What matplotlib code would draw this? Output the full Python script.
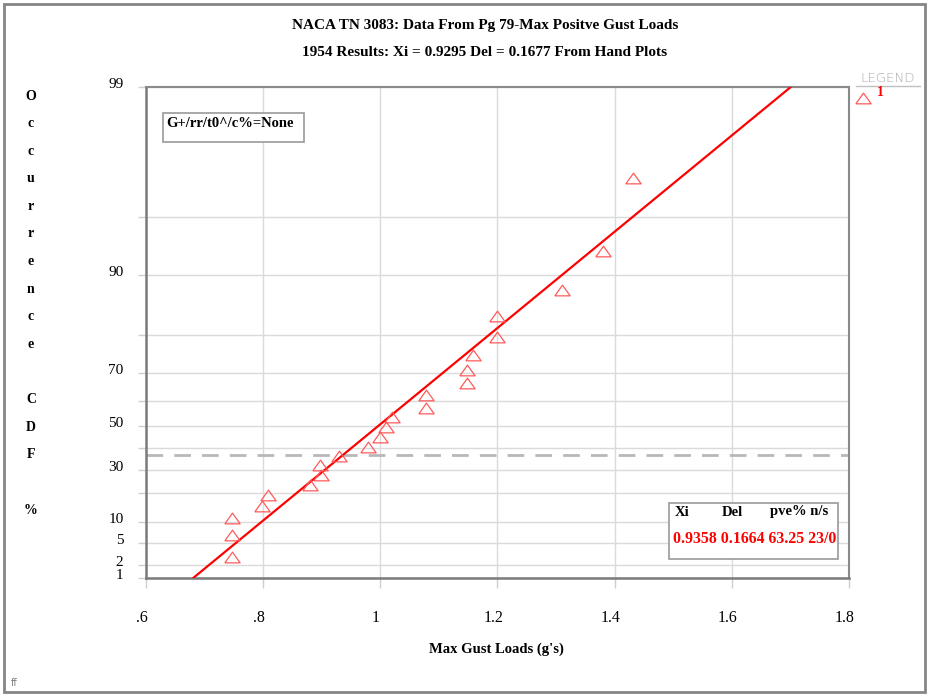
import numpy as np
import matplotlib
matplotlib.use("Agg")
import matplotlib.pyplot as plt
import matplotlib.patches as mpatches
import matplotlib.transforms as mtransforms
from matplotlib.ticker import FixedLocator, FixedFormatter

# ---------------- data ----------------
title1 = "NACA TN 3083: Data From Pg 79-Max Positve Gust Loads"
title2 = "1954 Results: Xi = 0.9295 Del = 0.1677 From Hand Plots"
x_label = "Max Gust Loads (g's)"
y_label_letters = ["O", "c", "c", "u", "r", "r", "e", "n", "c", "e", "", "C", "D", "F", "", "%"]

gust_loads = [0.748, 0.748, 0.748, 0.798, 0.809, 0.880, 0.899, 0.897, 0.929, 0.979,
              0.999, 1.010, 1.021, 1.078, 1.078, 1.149, 1.149, 1.159, 1.199, 1.199,
              1.311, 1.381, 1.432]
cdf_pct = [2.8, 6.8, 11.1, 15.2, 19.3, 23.6, 27.8, 32.2, 36.4, 40.5,
           45.1, 49.5, 53.8, 57.5, 62.3, 66.7, 70.7, 75.1, 79.6, 83.9,
           88.0, 92.5, 96.9]

fit_xi = 0.9358
fit_del = 0.1664
fit_pve = "63.25"
fit_ns = "23/0"
ref_line_pct = 36.75

x_ticks = [0.6, 0.8, 1.0, 1.2, 1.4, 1.6, 1.8]
x_tick_labels = [".6", ".8", "1", "1.2", "1.4", "1.6", "1.8"]
y_grid_pct = [1, 2, 5, 10, 20, 30, 40, 50, 60, 70, 80, 90, 95, 99]
y_label_pct = [1, 2, 5, 10, 30, 50, 70, 90, 99]
box_label = "G+/rr/t0^/c%=None"
legend_entry = "1"

# ---------------- figure ----------------
W, H = 931, 694
fig = plt.figure(figsize=(W / 100, H / 100), dpi=100)
SERIF = ["Liberation Serif", "DejaVu Serif"]


def fx(x):
    return x / W


def fy(y):
    return 1 - y / H


ax = fig.add_axes([fx(145.7), fy(577.7), fx(849) - fx(145.7), fy(86.7) - fy(577.7)])


def gumbel_fwd(p):
    p = np.clip(np.asarray(p, dtype=float) / 100.0, 1e-9, 1 - 1e-9)
    return -np.log(-np.log(p))


def gumbel_inv(y):
    return 100.0 * np.exp(-np.exp(-np.asarray(y, dtype=float)))


ax.set_yscale("function", functions=(gumbel_fwd, gumbel_inv))
ax.set_xlim(0.6, 1.8)
ax.set_ylim(1, 99)

# grid
ax.yaxis.set_major_locator(FixedLocator(y_grid_pct))
ax.yaxis.set_major_formatter(FixedFormatter(
    [(str(v) if v in y_label_pct else "") for v in y_grid_pct]))
ax.yaxis.set_minor_locator(FixedLocator([]))
ax.xaxis.set_major_locator(FixedLocator(x_ticks))
ax.xaxis.set_major_formatter(FixedFormatter(x_tick_labels))
ax.grid(True, color="#dadada", lw=1.0, zorder=0)
ax.set_axisbelow(True)

ax.tick_params(axis="both", which="major", color="#cfcfcf", width=1.0,
               labelsize=11.5, direction="out")
ax.tick_params(axis="x", length=7, pad=16)
ax.tick_params(axis="y", length=6, pad=10, labelsize=11)
for lab in ax.get_xticklabels():
    lab.set_fontfamily(SERIF)
for lab in ax.get_yticklabels():
    lab.set_fontfamily(SERIF)

off_y = mtransforms.ScaledTranslation(0, 4 / 100, fig.dpi_scale_trans)
for lab in ax.get_yticklabels():
    lab.set_transform(lab.get_transform() + off_y)
off_x = mtransforms.ScaledTranslation(-4 / 100, 0, fig.dpi_scale_trans)
for lab in ax.get_xticklabels():
    lab.set_transform(lab.get_transform() + off_x)

for side in ["left", "bottom"]:
    ax.spines[side].set_color("#7a7a7a")
    ax.spines[side].set_linewidth(1.8)
for side in ["top", "right"]:
    ax.spines[side].set_color("#8a8a8a")
    ax.spines[side].set_linewidth(1.5)

# reference dashed line
ax.axhline(ref_line_pct, color="#b8b8b8", lw=2.0, dashes=(6, 4), zorder=1)

# fitted line
line_pct = np.array([1.0, 5.0, 50.0, 90.0, 99.0])
line_x = fit_xi + fit_del * gumbel_fwd(line_pct)
ax.plot(line_x, line_pct, color="#ff0000", lw=1.6, zorder=3, clip_on=True)

# data points
tri = [(-1, -0.7), (1, -0.7), (0, 0.7), (-1, -0.7)]
ax.plot(gust_loads, cdf_pct, linestyle="none", marker=tri, markersize=11,
        markerfacecolor="none", markeredgecolor="#ff5a5a", markeredgewidth=0.9,
        zorder=4, clip_on=False)

# titles
fig.text(fx(485), fy(25), title1, ha="center", va="center", fontsize=11,
         fontweight="bold", family=SERIF)
fig.text(fx(485), fy(53), title2, ha="center", va="center", fontsize=11,
         fontweight="bold", family=SERIF)
fig.text(fx(496.5), fy(649), x_label, ha="center", va="center", fontsize=10.5,
         fontweight="bold", family=SERIF)

# vertical stacked y label
for i, ch in enumerate(y_label_letters):
    if ch:
        fig.text(fx(31), fy(96 + 27.6 * i), ch, ha="center", va="center",
                 fontsize=10, fontweight="bold", family=SERIF)

# "G+..." box
fig.patches.append(mpatches.Rectangle((fx(162.7), fy(141.7)), fx(304) - fx(162.7),
                                      fy(113.3) - fy(141.7), transform=fig.transFigure,
                                      fill=True, facecolor="white", edgecolor="#9a9a9a",
                                      lw=1.2, zorder=5))
fig.text(fx(230), fy(123.5), box_label, ha="center", va="center", fontsize=10.5,
         fontweight="bold", family=SERIF, zorder=6)

# results box
fig.patches.append(mpatches.Rectangle((fx(668.6), fy(559)), fx(838) - fx(668.6),
                                      fy(502.5) - fy(559), transform=fig.transFigure,
                                      fill=True, facecolor="white", edgecolor="#9a9a9a",
                                      lw=1.2, zorder=5))
fig.text(fx(675), fy(512), "Xi", ha="left", va="center", fontsize=10.5,
         fontweight="bold", family=SERIF, zorder=6)
fig.text(fx(722), fy(512), "Del", ha="left", va="center", fontsize=10.5,
         fontweight="bold", family=SERIF, zorder=6)
fig.text(fx(770), fy(512), "pve% n/s", ha="left", va="center", fontsize=10.5,
         fontweight="bold", family=SERIF, zorder=6)
fig.text(fx(673), fy(539), f"{fit_xi:.4f} {fit_del:.4f} {fit_pve} {fit_ns}",
         ha="left", va="center", fontsize=11.4, fontweight="bold", family=SERIF,
         color="#ff0000", zorder=6)

# right-side legend
fig.text(fx(888), fy(78), "LEGEND", ha="center", va="center", fontsize=9.5,
         color="#a8a8a8", family="DejaVu Sans", fontweight="light")
fig.lines.append(plt.Line2D([fx(856), fx(920)], [fy(86), fy(86)], transform=fig.transFigure,
                            color="#c0c0c0", lw=1.0))
fig.lines.append(plt.Line2D([fx(862.7)], [fy(97.7)], transform=fig.transFigure,
                            linestyle="none", marker=tri, markersize=11,
                            markerfacecolor="none", markeredgecolor="#ff5a5a",
                            markeredgewidth=0.9))
fig.text(fx(880), fy(92), legend_entry, ha="center", va="center", fontsize=10,
         fontweight="bold", family=SERIF, color="#ff0000")

# bottom-left mark
fig.text(fx(14), fy(683), "ff", ha="center", va="center", fontsize=7,
         color="#808080", family="DejaVu Sans")

# outer border
fig.patches.append(mpatches.Rectangle((fx(4), fy(692)), fx(925) - fx(4), fy(4) - fy(692),
                                      transform=fig.transFigure, fill=False,
                                      edgecolor="#858585", lw=2.0, zorder=10))

fig.savefig("out.png", dpi=100)
